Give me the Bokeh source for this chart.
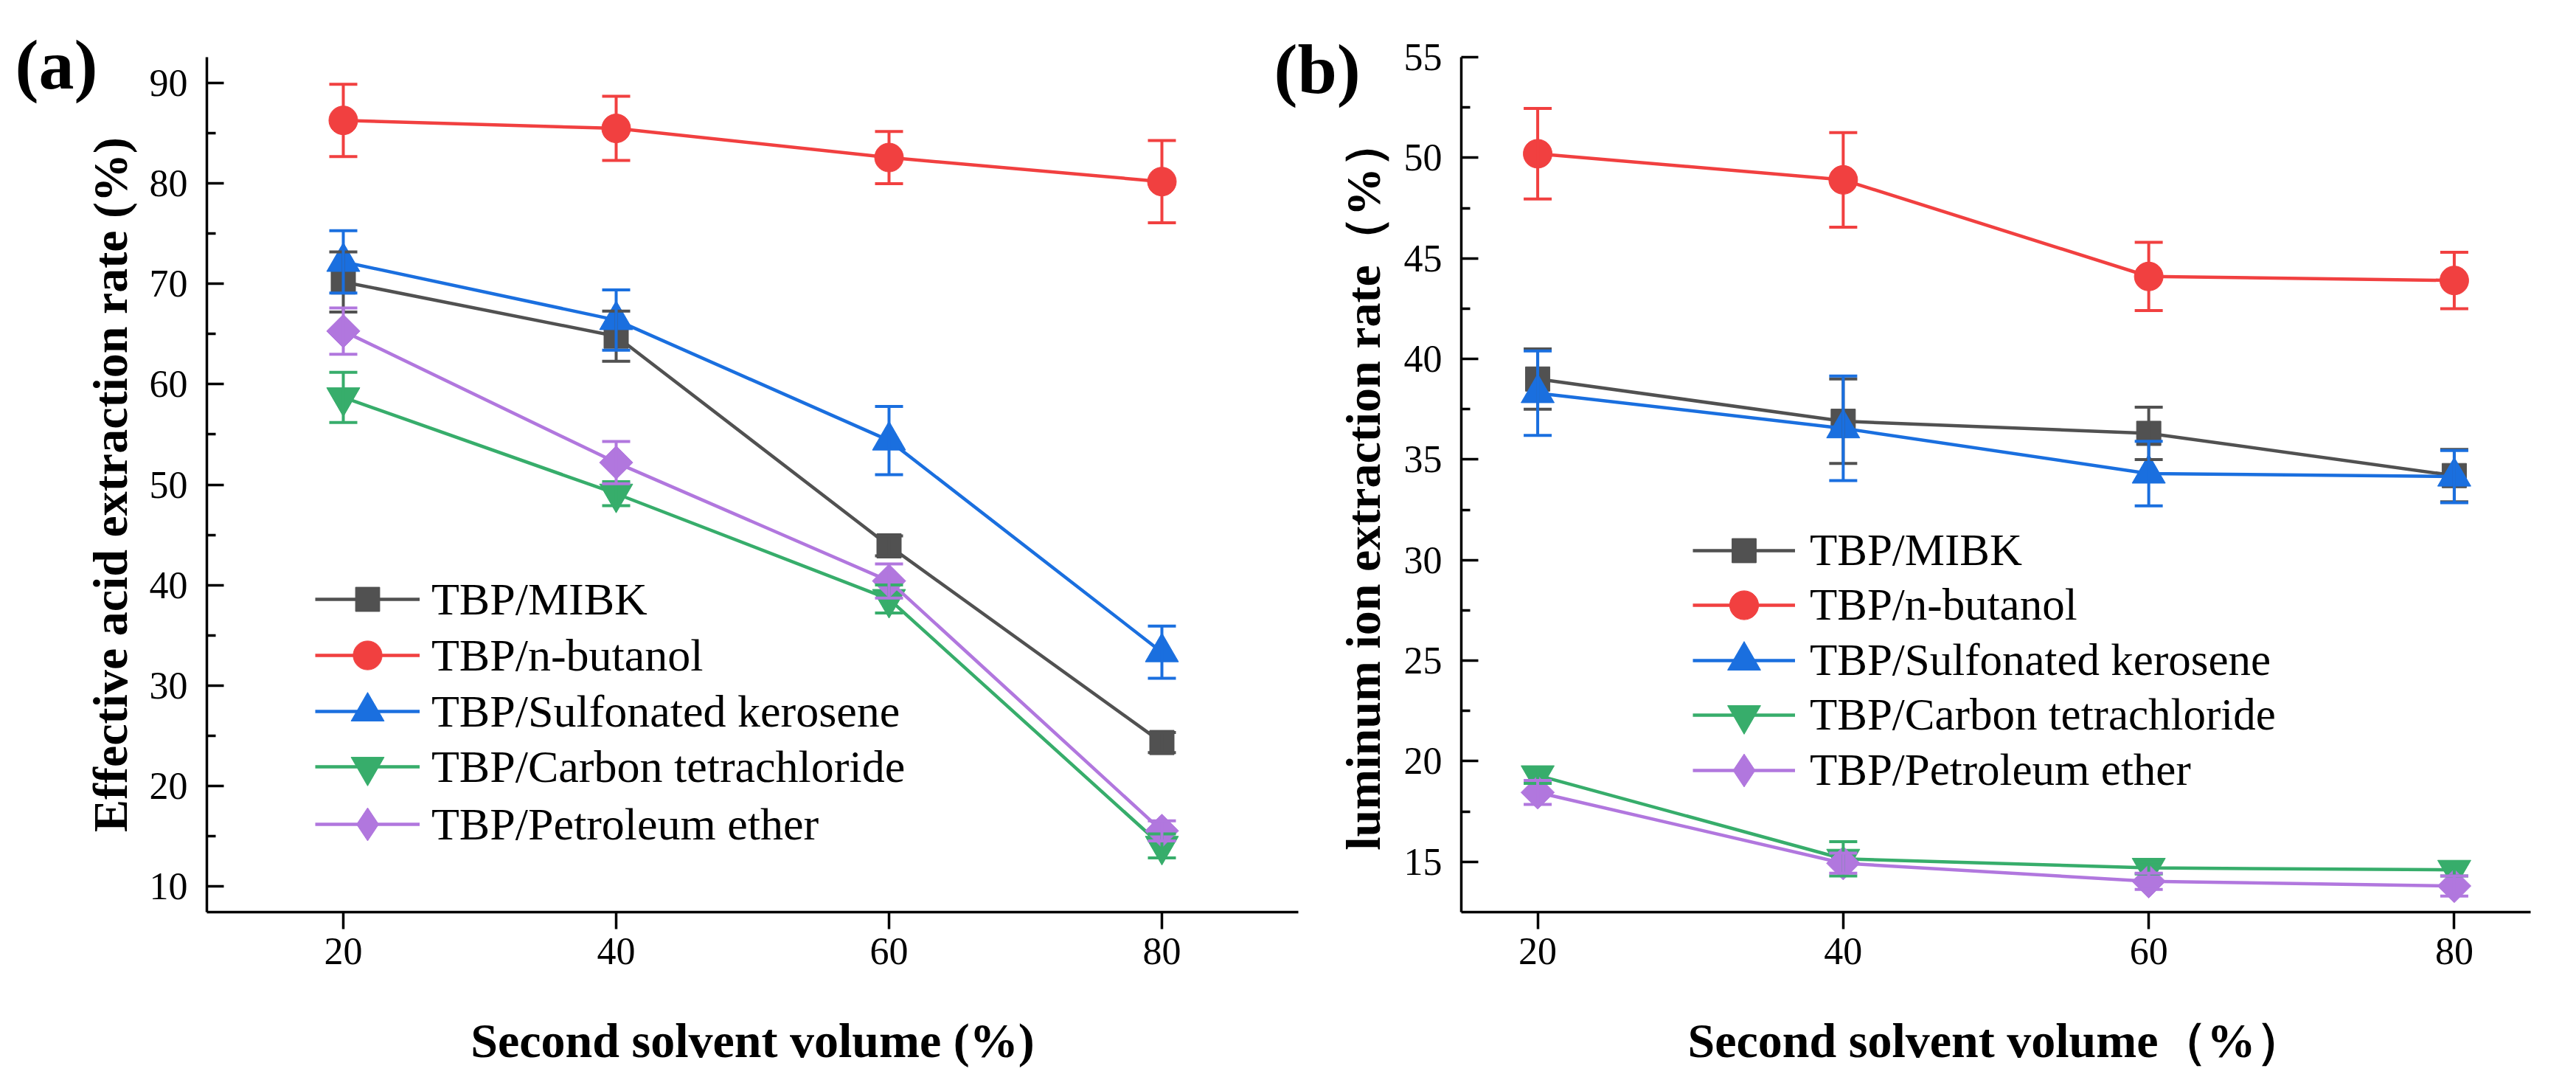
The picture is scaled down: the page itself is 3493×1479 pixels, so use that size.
from math import pi
from bokeh.plotting import figure
from bokeh.models import (ColumnDataSource, Whisker, TeeHead, Legend, LegendItem,
                          FixedTicker, Range1d, LinearAxis, CustomJSTickFormatter)
from bokeh.layouts import row
from bokeh.embed import file_html
from bokeh.resources import INLINE

# ---------------- data ----------------
x_vals = [20, 40, 60, 80]
x_ticks = [20, 40, 60, 80]
series_names = ["TBP/MIBK", "TBP/n-butanol", "TBP/Sulfonated kerosene",
                "TBP/Carbon tetrachloride", "TBP/Petroleum ether"]

# panel (a): effective acid extraction rate (%)
a_mibk = [70.2, 64.8, 43.9, 24.3]
a_mibk_err = [3.0, 2.5, 1.0, 1.0]
a_butanol = [86.3, 85.5, 82.6, 80.2]
a_butanol_err = [3.6, 3.2, 2.6, 4.1]
a_kerosene = [72.2, 66.4, 54.4, 33.3]
a_kerosene_err = [3.1, 3.0, 3.4, 2.6]
a_ccl4 = [58.7, 49.1, 38.6, 14.0]
a_ccl4_err = [2.5, 1.2, 1.4, 1.2]
a_petrol = [65.3, 52.2, 40.4, 15.5]
a_petrol_err = [2.3, 2.1, 1.7, 1.0]
a_yticks = [10, 20, 30, 40, 50, 60, 70, 80, 90]
a_yminor = [15, 25, 35, 45, 55, 65, 75, 85]

# panel (b): aluminum ion extraction rate (%)
b_mibk = [39.0, 36.9, 36.3, 34.2]
b_mibk_err = [1.5, 2.1, 1.3, 1.3]
b_butanol = [50.2, 48.9, 44.1, 43.9]
b_butanol_err = [2.25, 2.35, 1.7, 1.4]
b_kerosene = [38.3, 36.55, 34.3, 34.15]
b_kerosene_err = [2.1, 2.6, 1.6, 1.3]
b_ccl4 = [19.3, 15.15, 14.7, 14.6]
b_ccl4_err = [0.4, 0.85, 0.3, 0.3]
b_petrol = [18.45, 14.93, 14.03, 13.8]
b_petrol_err = [0.6, 0.5, 0.4, 0.5]
b_yticks = [15, 20, 25, 30, 35, 40, 45, 50, 55]
b_yminor = [17.5, 22.5, 27.5, 32.5, 37.5, 42.5, 47.5, 52.5]

# ---------------- styles ----------------
colors = ["#515151", "#F14040", "#1A6FDF", "#37AD6B", "#B177DE"]
markers = ["square", "circle", "triangle", "inverted_triangle", "square"]
msizes = [33, 39, 45, 45, 32]
mangles = [0, 0, 0, 0, pi / 4]
leg_markers = ["square", "circle", "triangle", "inverted_triangle", "diamond"]
leg_sizes = [33, 39, 45, 45, 45]
FONT = "Liberation Serif"


def make_panel(width, height, xr, yr, borders, ys, errs, yticks, yminor,
               xlabel, ylabel, leg_x, leg_rows, glyph_w, leg_standoff, leg_font,
               tags, ylab_standoff, frame_h):
    bl, br, bt, bb = borders
    p = figure(width=width, height=height, x_range=Range1d(*xr), y_range=Range1d(*yr),
               output_backend="svg", toolbar_location=None,
               min_border_left=bl, min_border_right=br, min_border_top=bt,
               min_border_bottom=bb)
    p.xgrid.visible = False
    p.ygrid.visible = False
    p.outline_line_color = None
    p.background_fill_color = "white"
    p.border_fill_alpha = 0

    xa = p.xaxis[0]
    ya = p.yaxis[0]
    xa.ticker = FixedTicker(ticks=x_ticks)
    ya.ticker = FixedTicker(ticks=yticks, minor_ticks=yminor)
    for ax in (xa, ya):
        ax.axis_line_width = 3.5
        ax.axis_line_color = "black"
        ax.major_tick_line_width = 3.5
        ax.major_tick_line_color = "black"
        ax.minor_tick_line_width = 3.5
        ax.minor_tick_line_color = "black"
        ax.major_label_text_font = FONT
        ax.major_label_text_font_size = "52px"
        ax.major_label_text_color = "black"
        ax.axis_label_text_font = FONT
        ax.axis_label_text_font_style = "bold"
        ax.axis_label_text_font_size = "66px"
        ax.axis_label_text_color = "black"
    xa.major_tick_in = 0
    xa.major_tick_out = 23
    xa.minor_tick_line_color = None
    xa.major_label_standoff = 12
    xa.axis_label = xlabel
    xa.axis_label_standoff = 64
    ya.major_tick_in = 23
    ya.major_tick_out = 0
    ya.minor_tick_in = 12
    ya.minor_tick_out = 0
    ya.major_label_standoff = 26
    ya.axis_label = ylabel
    ya.axis_label_standoff = ylab_standoff

    # panel tags "(a)" / "(b)": the only label of an invisible extra axis
    if tags:
        p.extra_y_ranges = {"tag": Range1d(0, frame_h)}
    for tag, side, tag_pos, tag_standoff in tags:
        tag_axis = LinearAxis(y_range_name="tag", ticker=FixedTicker(ticks=[tag_pos]),
                              formatter=CustomJSTickFormatter(code="return '%s'" % tag),
                              axis_line_color=None, major_tick_line_color=None,
                              minor_tick_line_color=None, major_tick_in=0,
                              major_tick_out=0, major_label_standoff=tag_standoff,
                              major_label_text_font=FONT,
                              major_label_text_font_style="bold",
                              major_label_text_font_size="96px",
                              major_label_text_color="black")
        p.add_layout(tag_axis, side)

    line_rs = []
    scat_rs = []
    leg_rs = []
    for i in range(5):
        src = ColumnDataSource(dict(x=x_vals, y=ys[i]))
        lr = p.line("x", "y", source=src, line_color=colors[i], line_width=4.5)
        sr = p.scatter("x", "y", source=src, marker=markers[i], size=msizes[i],
                       angle=mangles[i], fill_color=colors[i], line_color=colors[i],
                       line_width=1)
        line_rs.append(lr)
        scat_rs.append(sr)
        if markers[i] != leg_markers[i]:
            # hidden legend-only swatch (legend swatches ignore marker rotation)
            dummy = p.scatter("x", "y", source=src, marker=leg_markers[i],
                              size=leg_sizes[i], fill_color=colors[i],
                              line_color=colors[i], line_width=1, visible=False)
            leg_rs.append(dummy)
        else:
            leg_rs.append(sr)

    for i in range(5):
        lo = [v - e for v, e in zip(ys[i], errs[i])]
        hi = [v + e for v, e in zip(ys[i], errs[i])]
        esrc = ColumnDataSource(dict(x=x_vals, lower=lo, upper=hi))
        w = Whisker(source=esrc, base="x", lower="lower", upper="upper",
                    dimension="height", line_color=colors[i], line_width=4,
                    upper_head=TeeHead(size=38, line_color=colors[i], line_width=4),
                    lower_head=TeeHead(size=38, line_color=colors[i], line_width=4),
                    level="annotation")
        p.add_layout(w)

    # legend: one item per legend so each swatch marker keeps its own size
    frame_bottom_px, centers = leg_rows
    for i in range(5):
        gh = int(round(leg_sizes[i] / 0.4))
        yoff = frame_bottom_px - centers[i] - gh / 2.0
        leg = Legend(items=[LegendItem(label=series_names[i],
                                       renderers=[line_rs[i], leg_rs[i]])],
                     location=(leg_x, yoff), glyph_width=glyph_w, glyph_height=gh,
                     label_standoff=leg_standoff, padding=0, margin=0, spacing=0,
                     border_line_alpha=0, background_fill_alpha=0,
                     label_text_font=FONT, label_text_font_size=leg_font,
                     label_text_color="black")
        p.add_layout(leg)
    return p


pa = make_panel(
    1860, 1463, (10, 90), (7.4, 92.6), (280, 100, 40, 227),
    [a_mibk, a_butanol, a_kerosene, a_ccl4, a_petrol],
    [a_mibk_err, a_butanol_err, a_kerosene_err, a_ccl4_err, a_petrol_err],
    a_yticks, a_yminor,
    "Second solvent volume (%)", "Effective acid extraction rate (%)",
    147, (1244, [820, 896, 972, 1047, 1125]), 142, 16, "62px",
    [("(a)", "left", 1186, -23), ("(b)", "right", 1180, -33)], 14, 1196)

pb = make_panel(
    1761, 1463, (15, 85), (12.5, 55), (265, 46, 77, 223),
    [b_mibk, b_butanol, b_kerosene, b_ccl4, b_petrol],
    [b_mibk_err, b_butanol_err, b_kerosene_err, b_ccl4_err, b_petrol_err],
    b_yticks, b_yminor,
    "Second solvent volume\uff08%\uff09", "luminum ion extraction rate\uff08%\uff09",
    314, (1248, [758, 832, 907, 981, 1056]), 139, 20, "61px",
    [], 16, 1163)
pb.margin = (0, 0, 0, -144)

layout = row(pa, pb)
open("out.html", "w").write(file_html(layout, INLINE))
